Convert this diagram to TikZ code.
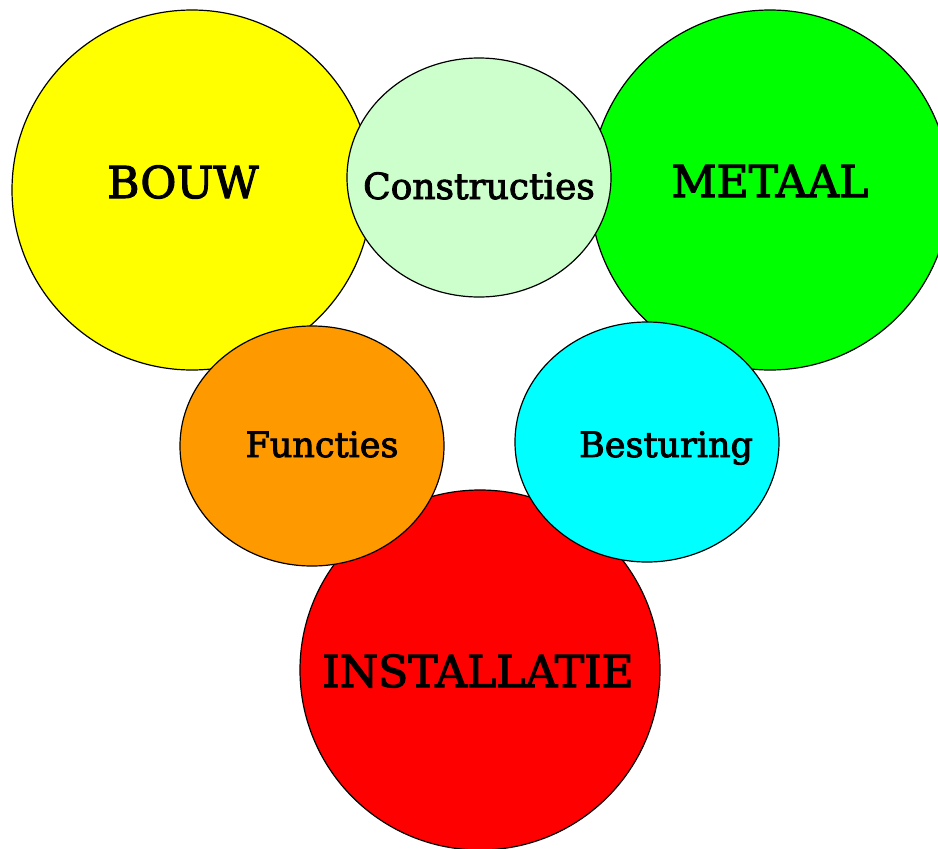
\documentclass[tikz,border=0pt]{standalone}
\usepackage{fontspec}
\setmainfont{DejaVu Serif}[FakeBold=2.5]
\definecolor{cyel}{HTML}{FFFF00}
\definecolor{cgrn}{HTML}{00FF00}
\definecolor{cred}{HTML}{FF0000}
\definecolor{clgr}{HTML}{CCFFCC}
\definecolor{corg}{HTML}{FF9900}
\definecolor{ccya}{HTML}{00FFFF}
\begin{document}
\begin{tikzpicture}[x=1pt,y=-1pt,
  blob/.style={draw=black,line width=1.2pt},
  big/.style={font=\fontsize{44}{48}\selectfont,anchor=base,inner sep=0pt},
  small/.style={font=\fontsize{35}{38}\selectfont,anchor=base,inner sep=0pt}]
\useasboundingbox (0,0) rectangle (938,849);
\begin{scope}
\clip (0,0) rectangle (938,849);
\path[blob,fill=cyel] (192,190) circle[radius=180];
\path[blob,fill=cgrn] (770,190) circle[radius=180];
\path[blob,fill=cred] (480,670) circle[radius=180];
\path[blob,fill=clgr] (479,177.5) ellipse[x radius=132,y radius=119.5];
\path[blob,fill=corg] (312,446) ellipse[x radius=132,y radius=120];
\path[blob,fill=ccya] (647,442) ellipse[x radius=132,y radius=120];
\end{scope}
\node[big] (bouw) at (183,198) {BOUW};
\node[big] (metaal) at (770,197) {METAAL};
\node[big] (inst) at (478,687) {INSTALLATIE};
\node[small,font=\fontsize{36}{38}\selectfont] (constr) at (479,199) {Constructies};
\node[small] (funct) at (322,457) {Functies};
\node[small] (best) at (666,457) {Besturing};
\end{tikzpicture}
\end{document}
